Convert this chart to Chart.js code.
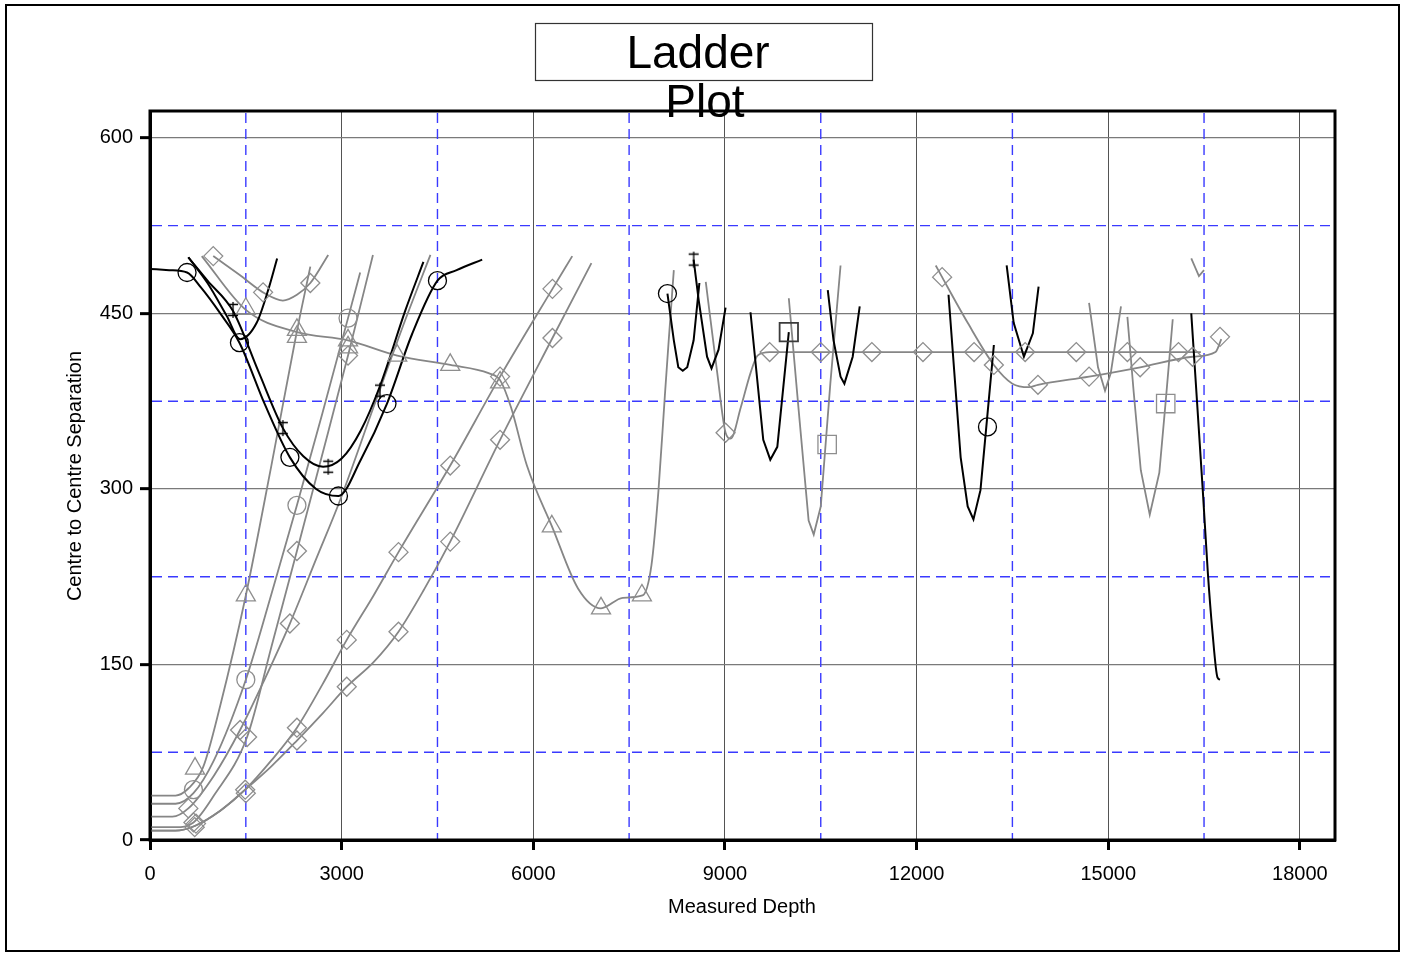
<!DOCTYPE html>
<html>
<head>
<meta charset="utf-8">
<title>Ladder Plot</title>
<script src="https://cdn.jsdelivr.net/npm/chart.js@4.4.1/dist/chart.umd.min.js"></script>
<style>
    html, body { margin: 0; padding: 0; background: #fff; }
    canvas { display: block; }
</style>
</head>
<body>
<canvas id="ladder" width="1405" height="955"></canvas>
<script>
// --- Axis ticks ---
const xTickValues = [0, 3000, 6000, 9000, 12000, 15000, 18000];
const yTickValues = [0, 150, 300, 450, 600];
const xMinorLines = [1500, 4500, 7500, 10500, 13500, 16500];
const yMinorLines = [75, 225, 375, 525];

// --- Gray offset wells: [measured depth, separation] ---
const riseTriangle = [[0,38],[400,38],[600,44],[830,62],[1100,115],[1500,209],[1900,320],[2300,435],[2510,490]];
const riseCircle = [[0,31],[400,31],[680,40],[1000,68],[1500,137],[1900,210],[2300,286],[2700,365],[3100,446],[3290,485]];
const riseDiamondA = [[0,11],[400,11],[680,15],[1000,38],[1520,88],[1900,165],[2300,247],[2700,330],[3100,414],[3490,500]];
const riseDiamondB = [[0,20],[350,20],[600,27],[1000,55],[1410,94],[1800,138],[2190,185],[2600,240],[2980,291],[3500,370],[4000,445],[4390,500]];
const longDiamondA = [[0,8],[400,8],[700,12],[1100,25],[1490,43],[1900,68],[2300,96],[2700,133],[3080,171],[3500,209],[3890,246],[4700,320],[5480,396],[6300,471],[6610,499]];
const longDiamondB = [[0,8],[400,8],[700,12],[1100,25],[1490,43],[1900,63],[2300,85],[2700,108],[3080,131],[3500,152],[3890,178],[4300,215],[4700,255],[5480,342],[6300,429],[6910,493]];
const diamondU = [[990,499],[1400,483],[1800,467],[2080,461],[2300,466],[2510,476],[2790,500]];
const declineTriangle = [[810,499],[1500,453],[2300,434],[3100,427],[3870,414],[4700,406],[5300,399],[5480,393],[5650,370],[5900,320],[6300,267],[6700,215],[7060,198],[7400,207],[7710,209],[7850,235],[7960,299],[8060,380],[8120,427],[8200,487]];
const flatDiamond = [[8700,477],[8880,399],[9010,348],[9090,343],[9250,370],[9400,399],[9510,414],[9700,417],[10500,417],[11300,417],[12100,417],[12900,417],[13700,417],[14500,417],[15300,417],[16100,417],[16450,417]];
const slopeDiamond = [[12300,491],[12400,481],[12800,442],[13210,406],[13500,390],[13760,387],[13900,389],[14700,396],[15500,404],[16320,413],[16680,417],[16770,428]];
const grayV1 = [[10000,463],[10150,370],[10310,273],[10390,261],[10500,285],[10650,390],[10810,491]];
const grayV2 = [[14700,459],[14840,404],[14950,384],[15040,399],[15200,456]];
const grayV3 = [[15300,447],[15400,382],[15510,316],[15650,278],[15800,314],[15900,375],[16010,445]];
const grayHook = [[16300,497],[16420,482],[16500,487]];

// --- Black offset wells ---
const blackCircle = [[0,488],[300,487],[580,485],[800,472],[1100,450],[1400,425],[1800,372],[2190,327],[2600,300],[2950,294],[3300,325],[3710,373],[4100,432],[4500,478],[4800,487],[5200,496]];
const blackPlus = [[600,498],[900,478],[1300,452],[1700,400],[2080,352],[2400,328],[2710,319],[3000,326],[3300,350],[3600,388],[4000,453],[4280,494]];
const blackSmallU = [[600,498],[900,476],[1200,448],[1410,428],[1670,442],[1850,470],[1990,497]];
const blackK1 = [[8100,467],[8200,427],[8270,404],[8340,401],[8410,404],[8510,427],[8600,476]];
const blackK2 = [[8510,496],[8590,461],[8720,413],[8790,403],[8900,419],[9010,455]];
const blackK3 = [[9400,451],[9600,342],[9710,325],[9820,336],[10000,434]];
const blackK4 = [[10610,470],[10700,427],[10810,396],[10870,390],[11000,413],[11110,456]];
const blackK5 = [[12500,466],[12690,327],[12800,285],[12890,274],[13000,299],[13210,423]];
const blackK6 = [[13410,491],[13520,442],[13680,413],[13820,433],[13910,473]];
const blackK7 = [[16300,450],[16480,299],[16560,228],[16630,179],[16710,139],[16750,137]];

// --- Markers ---
const blackCircleMarks = [[580,485],[1400,425],[2190,327],[2950,294],[3710,373],[4500,478],[8100,467],[13110,353]];
const blackPlusMarks = [[1300,453],[2080,352],[2790,319],[3600,384],[8510,496]];
const grayCircleMarks = [[680,43],[1500,137],[2300,286],[3100,446]];
const triangleMarks = [[705,61],[1500,209],[2300,436],[1500,454],[2300,430],[3100,427],[3100,421],[3870,414],[4700,406],[5480,391],[6290,268],[7060,198],[7700,209]];
const diamondMarks = [
    [600,27],[1410,94],[2190,185],
    [680,15],[1520,88],[2300,247],[3100,414],
    [700,11],[720,14],[1490,43],[1500,40],[2300,96],[2300,85],[3080,171],[3080,131],
    [3890,246],[3890,178],[4700,320],[4700,255],[5480,396],[5480,342],[6300,471],[6300,429],
    [990,499],[1770,468],[2510,476],
    [9010,348],[9700,417],[10500,417],[11300,417],[12100,417],[12900,417],[13700,417],[14500,417],[15300,417],[16100,417],
    [12400,481],[13210,406],[13900,389],[14700,396],[15500,404],[16320,413],[16750,430]
];
const darkSquareMarks = [[10000,434]];
const graySquareMarks = [[10600,338],[15900,373]];

const GRAY = '#868686';
const MARK_GRAY = '#8e8e8e';
const FONT = "'Liberation Sans', Arial, sans-serif";

const toXY = pts => pts.map(([x, y]) => ({ x, y }));

function curve(pts, color, width, smooth) {
    return {
        data: toXY(pts), showLine: true, borderColor: color, borderWidth: width,
        pointRadius: 0, pointHoverRadius: 0,
        cubicInterpolationMode: smooth ? 'monotone' : 'default', tension: 0
    };
}

function marks(pts, style, radius, color, width) {
    return {
        data: toXY(pts), showLine: false, pointStyle: style, pointRadius: radius, pointHoverRadius: radius,
        pointBorderColor: color, pointBorderWidth: width || 1.3, pointBackgroundColor: 'rgba(0,0,0,0)'
    };
}

// double-cross marker used on the black well
const plusGlyph = document.createElement('canvas');
plusGlyph.width = 12; plusGlyph.height = 18;
(() => {
    const g = plusGlyph.getContext('2d');
    g.strokeStyle = '#000'; g.lineWidth = 1.3;
    g.beginPath();
    g.moveTo(6, 1); g.lineTo(6, 17);
    g.moveTo(1, 3.5); g.lineTo(11, 3.5);
    g.moveTo(1, 14.5); g.lineTo(11, 14.5);
    g.stroke();
})();

const datasets = [
    marks(blackCircleMarks, 'circle', 9, '#000', 1.3),
    marks(blackPlusMarks, plusGlyph, 6, '#000'),
    marks(darkSquareMarks, 'rect', 13, '#3c3c3c', 1.8),
    marks(graySquareMarks, 'rect', 13, MARK_GRAY),
    marks(grayCircleMarks, 'circle', 9, MARK_GRAY),
    marks(triangleMarks, 'triangle', 11, MARK_GRAY),
    marks(diamondMarks, 'rectRot', 9.5, MARK_GRAY),
    curve(blackCircle, '#000', 2, true),
    curve(blackPlus, '#000', 2, true),
    curve(blackSmallU, '#000', 2, true),
    curve(blackK1, '#000', 2, false),
    curve(blackK2, '#000', 2, false),
    curve(blackK3, '#000', 2, false),
    curve(blackK4, '#000', 2, false),
    curve(blackK5, '#000', 2, false),
    curve(blackK6, '#000', 2, false),
    curve(blackK7, '#000', 2, true),
    curve(riseTriangle, GRAY, 1.8, true),
    curve(riseCircle, GRAY, 1.8, true),
    curve(riseDiamondA, GRAY, 1.8, true),
    curve(riseDiamondB, GRAY, 1.8, true),
    curve(longDiamondA, GRAY, 1.8, true),
    curve(longDiamondB, GRAY, 1.8, true),
    curve(diamondU, GRAY, 1.8, true),
    curve(declineTriangle, GRAY, 1.8, true),
    curve(flatDiamond, GRAY, 1.8, true),
    curve(slopeDiamond, GRAY, 1.8, true),
    curve(grayV1, GRAY, 1.8, false),
    curve(grayV2, GRAY, 1.8, false),
    curve(grayV3, GRAY, 1.8, false),
    curve(grayHook, GRAY, 1.8, false)
];

// blue dashed sub-grid under the wells
const minorGrid = {
    id: 'minorGrid',
    beforeDatasetsDraw(chart) {
        const { ctx, chartArea: a, scales: { x, y } } = chart;
        ctx.save();
        ctx.strokeStyle = '#3a3aff';
        ctx.lineWidth = 1.4;
        ctx.setLineDash([10, 6]);
        xMinorLines.forEach(v => {
            const px = x.getPixelForValue(v);
            ctx.beginPath();
            ctx.moveTo(px, a.top + 2); ctx.lineTo(px, a.bottom);
            ctx.stroke();
        });
        yMinorLines.forEach(v => {
            const py = y.getPixelForValue(v);
            ctx.beginPath();
            ctx.moveTo(a.left + 2, py); ctx.lineTo(a.right, py);
            ctx.stroke();
        });
        ctx.restore();
    }
};

// frame, title box and axis titles
const decorations = {
    id: 'decorations',
    afterDraw(chart) {
        const { ctx, chartArea: a } = chart;
        ctx.save();
        ctx.strokeStyle = '#000';
        ctx.lineWidth = 3;
        ctx.strokeRect(a.left, a.top, a.right - a.left, a.bottom - a.top);

        ctx.lineWidth = 2;
        ctx.strokeRect(6, 5, 1393, 946);

        ctx.lineWidth = 1.2;
        ctx.strokeStyle = '#333';
        ctx.strokeRect(535.5, 23.5, 337, 57);

        ctx.fillStyle = '#000';
        ctx.textAlign = 'center';
        ctx.textBaseline = 'alphabetic';
        ctx.font = `46px ${FONT}`;
        ctx.fillText('Ladder', 698, 68);
        ctx.fillText('Plot', 705, 117);

        ctx.font = `20px ${FONT}`;
        ctx.textBaseline = 'middle';
        ctx.fillText('Measured Depth', 742, 907);
        ctx.translate(75, 476);
        ctx.rotate(-Math.PI / 2);
        ctx.fillText('Centre to Centre Separation', 0, 0);
        ctx.restore();
    }
};

new Chart(document.getElementById('ladder'), {
    type: 'scatter',
    data: { datasets },
    options: {
        responsive: false,
        animation: false,
        events: [],
        layout: { padding: { top: 111, right: 70, left: 0, bottom: 0 } },
        plugins: { legend: { display: false }, tooltip: { enabled: false } },
        scales: {
            x: {
                type: 'linear', min: 0, max: 18550,
                afterBuildTicks: s => { s.ticks = xTickValues.map(v => ({ value: v })); },
                afterFit: s => { s.height = 115; },
                grid: { color: '#545454', lineWidth: 1, tickColor: '#000', tickWidth: 3, tickLength: 10 },
                border: { color: '#000', width: 3 },
                ticks: { color: '#000', font: { family: FONT, size: 20 }, padding: 12, maxRotation: 0, callback: v => String(v) }
            },
            y: {
                type: 'linear', min: 0, max: 623,
                afterBuildTicks: s => { s.ticks = yTickValues.map(v => ({ value: v })); },
                afterFit: s => { s.width = 150; },
                grid: { color: '#7a7a7a', lineWidth: 1.3, tickColor: '#000', tickWidth: 3, tickLength: 10 },
                border: { color: '#000', width: 3 },
                ticks: { color: '#000', font: { family: FONT, size: 20 }, padding: 7, callback: v => String(v) }
            }
        }
    },
    plugins: [minorGrid, decorations]
});
</script>
</body>
</html>
